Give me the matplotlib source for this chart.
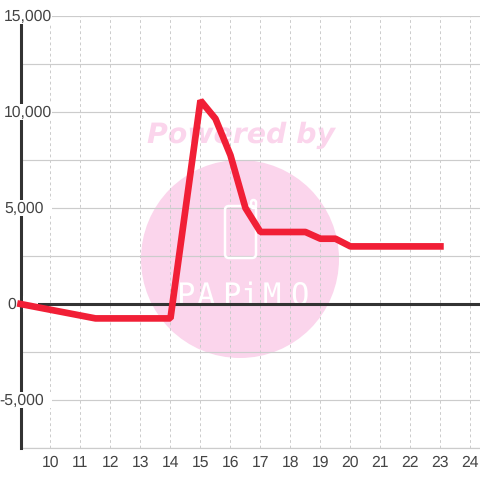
import matplotlib
matplotlib.use('Agg')
import matplotlib.pyplot as plt
from matplotlib.patches import Circle, FancyBboxPatch
from matplotlib.transforms import Affine2D

hours = [9, 11.5, 14, 15, 15.5, 16, 16.5, 17, 18.5, 19, 19.5, 20, 23]
values = [0, -750, -750, 10600, 9650, 7750, 5000, 3750, 3750, 3400, 3400, 3000, 3000]
x_ticks = list(range(10, 25))
y_minor = [-7500, -2500, 2500, 7500, 12500]
y_major = [15000, 10000, 5000, 0, -5000]
logo_letters = ['P', 'A', 'P', 'i', 'M', 'O']

DARK = '#333333'
TEXT = '#444444'
GRID = '#cccccc'
PINK = '#fbd5ec'
RED = '#f11f36'

plt.rcParams['font.family'] = ['Liberation Sans', 'DejaVu Sans']
plt.rcParams['text.hinting'] = 'no_hinting'

fig = plt.figure(figsize=(4.8, 4.8), dpi=100, facecolor='white')
ax = fig.add_axes([20.5 / 480, 32 / 480, 459.5 / 480, 432 / 480])
ax.set_xlim(9, 24.32)
ax.set_ylim(-7500, 15000)
for s in ['top', 'right', 'bottom']:
    ax.spines[s].set_visible(False)
ax.spines['left'].set_linewidth(2.2)
ax.spines['left'].set_color(DARK)
ax.spines['left'].set_zorder(2.8)

# pixel coords, origin top left, for the watermark and the label boxes
px = Affine2D().scale(1, -1).translate(0, 480)

ax.add_patch(Circle((240, 259), 99, transform=px, color=PINK, lw=0, zorder=0, clip_on=False))
ax.text(241.5, 135, 'Powered by', transform=px, color=PINK, fontsize=20.4, family='DejaVu Sans',
        fontweight='bold', style='italic', ha='center', va='center', zorder=0, clip_on=False)

ax.set_xticks(x_ticks)
ax.set_yticks(y_major)
ax.set_yticks(y_minor, minor=True)
ax.set_yticklabels([])
ax.tick_params(which='both', length=0)
ax.tick_params(axis='x', labelsize=11.3, labelcolor=TEXT, pad=5)
ax.grid(axis='x', color=GRID, lw=0.72, ls=(0, (2.8, 2.8)), zorder=1)
ax.grid(axis='y', which='both', color=GRID, lw=0.85, zorder=1)
ax.set_axisbelow(True)
ax.axhline(0, color=DARK, lw=2.2, zorder=2.5)
ax.axhline(-7500, color=GRID, lw=0.85, zorder=2, clip_on=False)

# logo
ax.add_patch(FancyBboxPatch((225, 206), 31, 52, boxstyle='round,pad=0,rounding_size=4',
                            transform=px, fc='none', ec='white', lw=1.8, zorder=2))
ax.add_patch(FancyBboxPatch((251, 200), 5, 8, boxstyle='round,pad=0,rounding_size=2.5',
                            transform=px, fc='none', ec='white', lw=1.8, zorder=2))
for letter, x in zip(logo_letters, [185, 206, 231, 250, 272, 299]):
    ax.text(x, 305, letter, transform=px, color='white', fontsize=22, family='DejaVu Sans Mono',
            ha='center', va='baseline', zorder=2, clip_on=False)

ax.plot(hours, values, color=RED, lw=4.8, solid_joinstyle='bevel', solid_capstyle='projecting',
        zorder=4, clip_on=False)

# y labels with white boxes that interrupt the axis and grid lines
for v in y_major:
    label = f'{v:,}'
    y_px = 304 - v * 96 / 5000
    if v == 0:
        box = (23, 38)
        x = 16.5
    else:
        box = (0, 52)
        x = 52 if abs(v) >= 10000 else 43.5
    ax.fill_between(box, y_px - 8, y_px + 8, transform=px, color='white', lw=0, zorder=3, clip_on=False)
    ax.text(x, y_px + 1, label, transform=px, color=TEXT, fontsize=11.3, ha='right',
            va='center', zorder=3.5, clip_on=False)

fig.savefig('out.png', dpi=100)
